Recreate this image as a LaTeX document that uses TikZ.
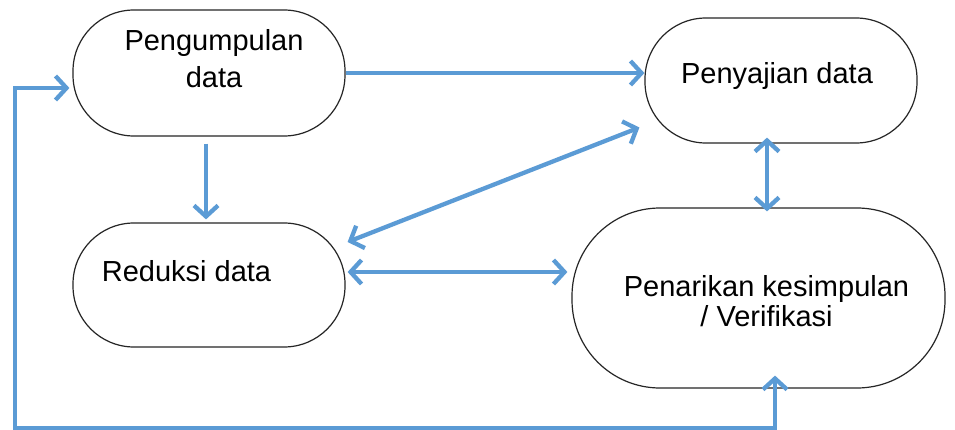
\documentclass[tikz,border=0pt]{standalone}
\usepackage{fontspec}
\setmainfont{Liberation Sans}
\usetikzlibrary{arrows.meta,calc}
\definecolor{arrowblue}{HTML}{5B9BD5}
\begin{document}
\begin{tikzpicture}[x=1pt,y=-1pt,
  >={Straight Barb[length=11pt,width=24pt]},
  box/.style={draw=black!85,line width=1.2pt,fill=white,inner sep=0pt,rectangle},
  lbl/.style={inner sep=0pt,align=center,text=black},
  conn/.style={draw=arrowblue,line width=4.3pt}]
\fill[white] (0,0) rectangle (955,430);
\useasboundingbox (0,0) rectangle (955,430);

\node[box,minimum width=272pt,minimum height=126pt,rounded corners=61pt] (pg) at (209,73) {};
\node[box,minimum width=272pt,minimum height=125pt,rounded corners=61pt] (ps) at (781,80.5) {};
\node[box,minimum width=272pt,minimum height=124pt,rounded corners=61pt] (rd) at (209,285) {};
\node[box,minimum width=373pt,minimum height=180pt,rounded corners=88pt] (pk) at (758.5,298) {};

\node[lbl,font=\fontsize{29}{37}\selectfont] (t1) at (214,58.5) {Pengumpulan\\data};
\node[lbl,font=\fontsize{29}{30}\selectfont] (t2) at (777,76) {Penyajian data};
\node[lbl,font=\fontsize{29}{30}\selectfont] (t3) at (186.5,271.5) {Reduksi data};
\node[lbl,font=\fontsize{29}{30}\selectfont] (t4) at (766.5,301) {Penarikan kesimpulan\\/ Verifikasi};

\draw[conn,->] (pg.east) -- (pg.east -| ps.west);
\draw[conn,->] ($(pg.south)+(-3,7)$) -- ($(rd.north)+(-3,-3)$);
\draw[conn,<->] ($(ps.west)+(-5,47)$) -- ($(rd.east)+(2,-43)$);
\draw[conn,<->] ($(rd.east)+(2,-13)$) -- ($(pk.west)+(-4,-26)$);
\draw[conn,<->] ($(ps.south)+(-14,-6)$) -- ($(pk.north)+(8.5,4)$);
\coordinate (fb) at (15,88);
\draw[conn,<->] ($(pk.south)+(16.5,-13)$) -- ++(0,53) -| (fb) -- ($(pg.west)+(-3,15)$);
\end{tikzpicture}
\end{document}
